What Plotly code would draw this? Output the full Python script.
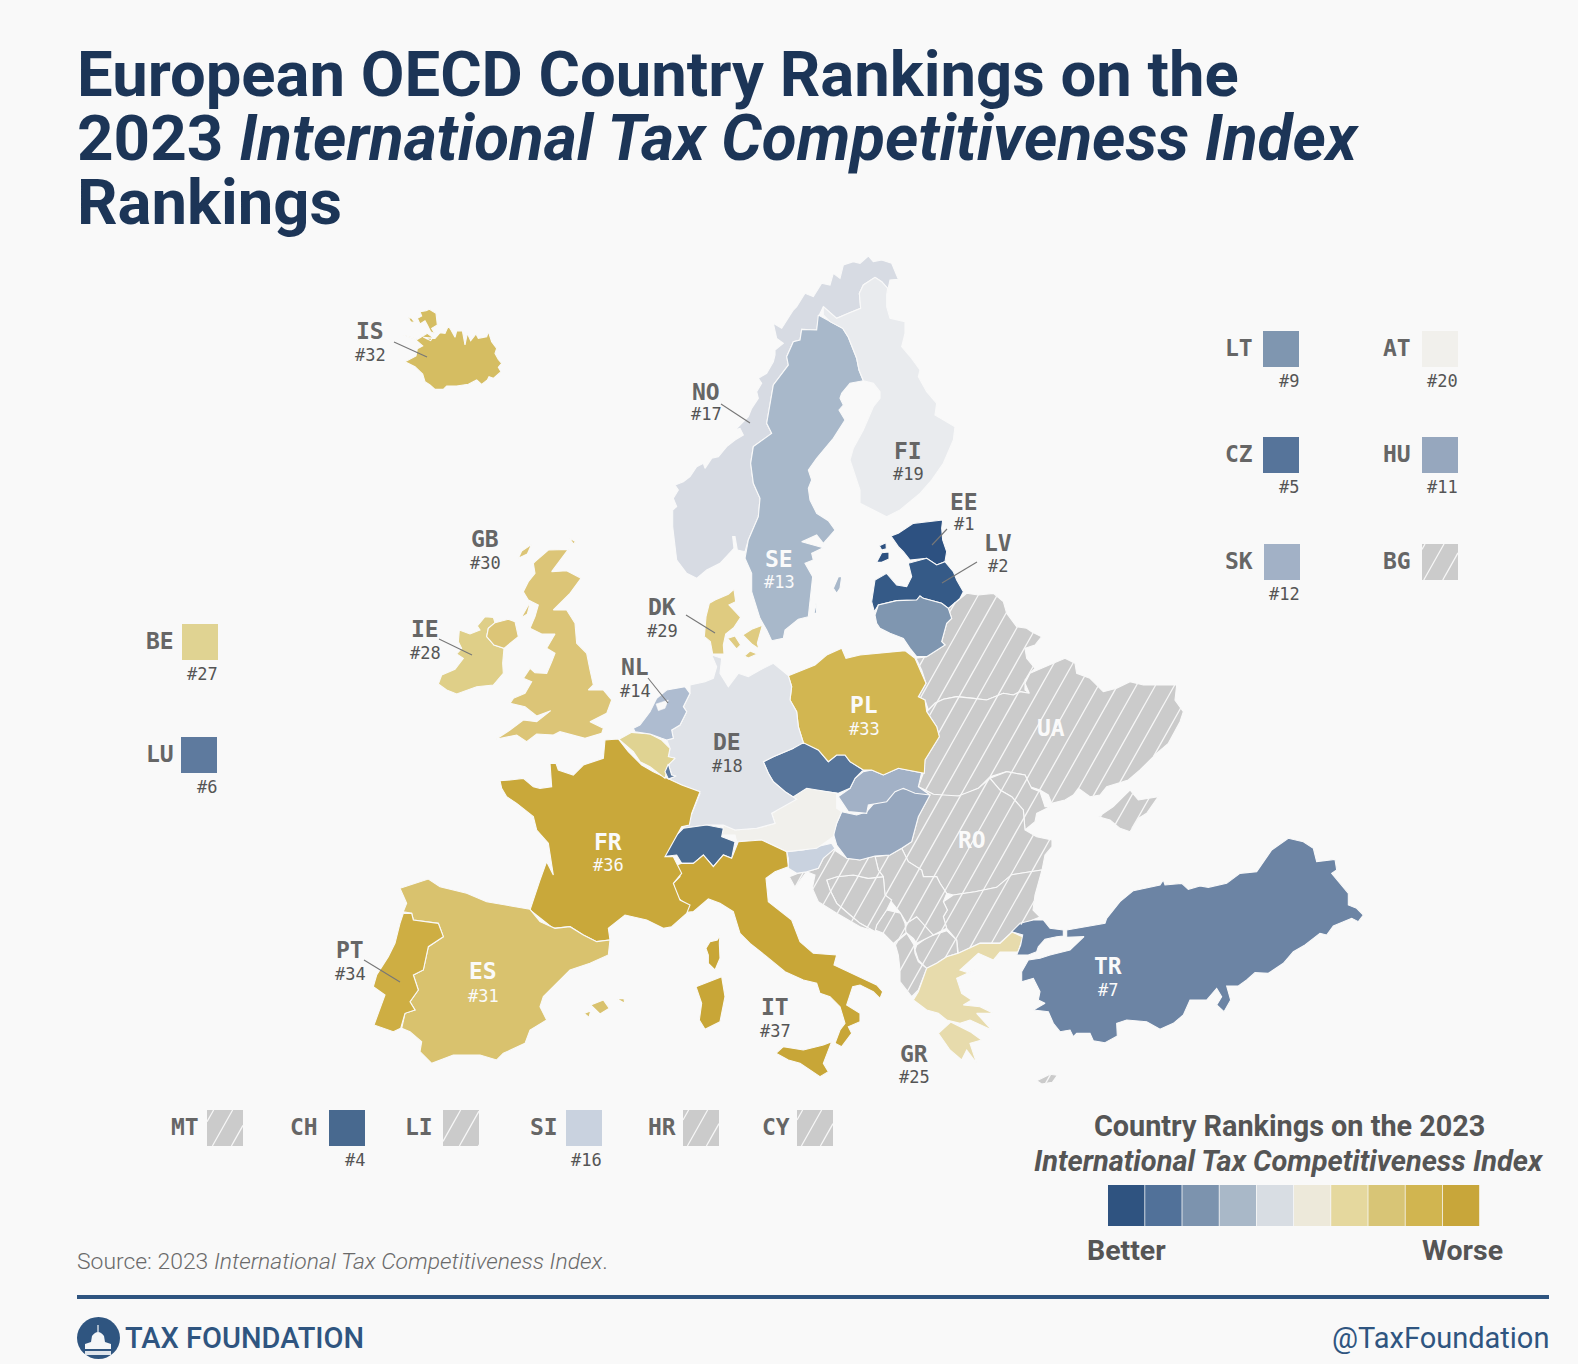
import plotly.graph_objects as go

BG = "#f9f9f9"
NAVY = "#1c3557"
BLUE = "#2f5580"
GRAY = "#cbcbcb"

# crop origins that the outlines were read in (reference px = value/3 + origin)
Z1 = (340, 250); Z2 = (660, 250); Z3 = (420, 530); Z4 = (740, 530)
Z5 = (370, 730); Z6 = (660, 780); Z7 = (1000, 820)

IS_MAIN = [(195,335),(228,318),(232,296),(248,288),(225,268),(205,262),(186,254),(215,262),(232,268),(262,250),(278,262),(272,272),(250,262),(285,265),(300,248),(315,250),(325,228),(333,240),(345,262),(350,243),(367,242),(375,285),(382,250),(392,272),(408,252),(415,265),(440,260),(445,245),(455,275),(470,295),(465,310),(475,328),(485,340),(475,352),(483,365),(460,385),(447,380),(442,390),(425,403),(410,390),(385,403),(350,408),(320,408),(310,418),(285,418),(270,405),(255,395),(248,372),(225,350)]
IS_NW = [(240,185),(258,182),(268,178),(288,190),(292,225),(275,235),(285,252),(272,245),(262,225),(255,212),(240,222),(232,205),(245,198)]
IS_ISLET = [(205,203),(215,205),(225,218),(212,215)]
NO_MAIN = [(695,40),(715,88),(690,90),(680,135),(683,115),(665,95),(645,82),(610,105),(598,130),(602,175),(565,190),(530,205),(490,170),(478,195),(470,240),(425,238),(420,270),(400,275),(380,320),(385,345),(340,405),(320,520),(335,550),(280,590),(272,640),(280,700),(300,745),(295,800),(265,870),(255,905),(232,900),(225,860),(218,860),(222,895),(180,940),(140,960),(110,985),(80,970),(50,930),(45,880),(38,830),(38,780),(50,770),(40,745),(55,720),(45,705),(70,695),(90,680),(110,650),(130,640),(135,655),(155,625),(175,620),(200,590),(225,570),(250,555),(240,535),(225,540),(255,510),(265,500),(275,475),(295,445),(290,425),(305,400),(295,385),(320,370),(340,335),(345,315),(345,300),(370,280),(350,265),(340,220),(365,235),(400,180),(410,170),(435,130),(460,140),(485,100),(510,105),(520,70),(540,85),(550,45),(580,35),(600,40),(625,18),(640,35),(665,30)]
SE_MAIN = [(475,195),(510,215),(548,235),(565,262),(578,295),(590,325),(597,360),(610,392),(570,400),(545,430),(540,445),(550,465),(537,480),(555,510),(520,565),(490,600),(470,625),(445,660),(455,690),(445,715),(450,750),(470,790),(505,812),(525,840),(490,880),(470,855),(425,875),(490,893),(455,910),(460,930),(435,940),(458,980),(445,1100),(415,1108),(375,1140),(370,1165),(335,1172),(320,1140),(300,1105),(275,1025),(275,970),(255,925),(265,870),(295,800),(300,745),(280,700),(272,640),(280,590),(335,550),(320,520),(340,405),(385,345),(380,320),(400,275),(420,270),(425,238),(470,240)]
SE_GOTLAND = [(520,1015),(535,980),(545,980),(540,1015),(530,1030)]
SE_OLAND = [(462,1090),(468,1060),(470,1090)]
FI_MAIN = [(490,170),(530,205),(565,190),(602,175),(598,130),(610,105),(645,82),(665,95),(683,115),(680,135),(680,170),(690,205),(735,215),(735,250),(725,290),(755,325),(780,360),(775,380),(800,425),(830,460),(825,495),(885,530),(880,570),(850,640),(815,690),(780,730),(720,780),(680,800),(640,780),(600,760),(600,720),(570,630),(580,595),(610,540),(640,470),(660,445),(660,425),(640,400),(610,392),(597,360),(590,325),(578,295),(565,262),(548,235),(510,215),(490,195)]
EE_MAIN = [(693,858),(715,850),(760,820),(810,815),(848,810),(845,835),(848,870),(860,905),(855,935),(830,945),(800,925),(750,930),(730,905),(715,890)]
EE_SAAREMAA = [(410,97),(425,68),(447,66),(447,87),(425,97)]
EE_HIIUMAA = [(418,47),(438,38),(439,56),(425,60)]
LV_MAIN = [(395,215),(405,150),(440,130),(470,165),(500,170),(515,140),(505,100),(560,85),(590,105),(615,95),(640,125),(650,150),(670,185),(660,205),(625,235),(605,220),(550,205),(540,198),(530,210),(470,212),(415,225),(403,245)]
LT_MAIN = [(405,255),(415,225),(470,212),(530,210),(540,198),(550,205),(605,220),(625,235),(635,265),(620,280),(605,335),(615,345),(560,380),(530,380),(510,355),(490,325),(450,310),(420,295),(410,280)]
BY_MAIN = [(625,235),(660,205),(680,190),(715,195),(760,190),(790,215),(800,250),(830,290),(860,295),(875,305),(905,320),(885,345),(855,355),(860,385),(885,415),(870,430),(855,450),(855,480),(868,490),(840,485),(820,495),(790,490),(740,510),(700,505),(650,500),(610,508),(585,520),(565,540),(555,510),(535,500),(558,460),(545,420),(528,385),(560,380),(615,345),(605,335),(620,280),(635,265)]
UA_MAIN = [(565,540),(585,520),(610,508),(650,500),(700,505),(740,510),(790,490),(820,495),(840,485),(868,490),(855,460),(870,430),(915,410),(950,395),(975,385),(1005,400),(1010,430),(1050,445),(1075,470),(1090,485),(1130,475),(1170,455),(1210,465),(1270,465),(1310,465),(1305,510),(1330,545),(1320,575),(1285,640),(1250,670),(1200,720),(1165,750),(1100,770),(1080,795),(1050,800),(1015,775),(1000,795),(975,810),(935,820),(925,795),(900,780),(870,770),(855,735),(800,725),(750,740),(715,775),(680,790),(655,798),(610,798),(580,793),(535,770),(550,730),(555,690),(598,620),(590,590),(560,545)]
UA_CRIMEA = [(1075,860),(1120,830),(1150,800),(1170,780),(1195,810),(1255,800),(1220,850),(1195,865),(1170,905),(1140,895),(1110,870)]
MD_MAIN = [(750,745),(800,725),(855,735),(875,775),(900,785),(915,830),(930,830),(890,850),(885,875),(855,900),(850,840),(815,800),(780,780)]
RO_MAIN = [(775,20),(820,43),(895,48),(955,25),(990,-5),(1020,30),(1055,50),(1090,90),(1095,150),(1130,170),(1176,180),(1176,200),(1155,225),(1146,270),(1055,284),(1010,322),(945,335),(880,345),(860,340),(840,310),(830,290),(790,290),(785,270),(745,245),(725,205),(755,185),(775,110),(810,45)]
BG_MAIN = [(880,345),(945,335),(1010,322),(1055,284),(1146,270),(1125,345),(1119,390),(1140,411),(1080,435),(1020,489),(960,489),(895,520),(890,480),(860,445),(850,410),(862,390),(850,365)]
MK_MAIN = [(770,495),(805,470),(860,452),(890,480),(893,520),(860,530),(830,550),(800,565),(775,540),(765,510)]
AL_MAIN = [(705,490),(740,460),(762,495),(765,520),(775,545),(800,565),(775,630),(755,650),(720,605),(720,570),(715,525)]
XK_MAIN = [(735,455),(740,430),(770,410),(790,430),(820,465),(770,490),(760,475)]
ME_MAIN = [(645,450),(650,435),(680,390),(722,400),(735,430),(738,458),(700,490),(670,460)]
RS_MAIN = [(655,270),(645,230),(690,225),(725,205),(745,245),(785,270),(790,290),(830,290),(840,310),(860,340),(850,365),(862,390),(850,410),(860,445),(820,465),(790,430),(770,410),(740,430),(722,400),(690,360),(675,345),(670,290)]
BA_MAIN = [(500,300),(530,290),(580,285),(625,295),(670,290),(675,345),(695,360),(680,390),(650,435),(645,455),(600,430),(570,405),(530,370),(510,330)]
HR_MAIN = [(515,205),(560,235),(600,240),(645,228),(655,270),(670,290),(625,295),(580,285),(530,290),(500,300),(510,330),(530,370),(570,405),(600,430),(645,455),(600,440),(530,400),(475,365),(457,325),(465,285),(440,275),(420,300),(405,322),(388,290),(415,280),(440,275),(475,265),(490,235)]
SI_MAIN = [(380,215),(430,210),(470,200),(515,190),(525,205),(490,235),(475,265),(440,275),(410,280),(385,265),(385,235)]
HU_MAIN = [(545,95),(590,105),(620,95),(655,55),(690,45),(720,25),(770,30),(810,45),(775,110),(755,185),(725,205),(690,225),(645,228),(600,240),(560,235),(530,195),(520,160),(530,130)]
SK_MAIN = [(370,725),(395,720),(430,735),(475,715),(545,728),(535,770),(570,795),(525,790),(490,775),(465,785),(440,815),(385,825),(380,850),(325,845),(295,800),(330,775),(345,745)]
CZ_MAIN = [(70,695),(100,680),(160,655),(165,640),(195,640),(235,660),(265,695),(290,675),(315,675),(330,695),(370,720),(345,745),(330,775),(295,790),(255,785),(205,780),(170,808),(135,785),(100,755),(85,730)]
PL_MAIN = [(145,437),(225,405),(260,375),(305,355),(318,385),(360,375),(495,362),(525,385),(558,460),(535,500),(555,510),(560,545),(590,590),(598,620),(555,690),(553,730),(475,715),(430,735),(395,720),(370,720),(330,695),(315,675),(290,675),(265,695),(235,660),(190,638),(175,590),(170,545),(150,510),(155,470)]
AT_MAIN = [(345,95),(385,60),(440,25),(530,40),(530,85),(545,95),(530,130),(520,170),(470,205),(380,215),(305,180),(230,185),(225,165),(185,165),(190,135),(225,150),(290,145),(345,130),(335,100)]
CH_MAIN = [(15,205),(45,170),(70,145),(140,135),(190,145),(185,170),(225,185),(215,235),(190,225),(160,260),(130,225),(100,250),(65,250),(50,225),(10,230)]
IT_MAIN = [(50,255),(65,250),(100,250),(130,225),(160,260),(190,225),(215,235),(235,185),(305,180),(380,215),(385,260),(345,275),(318,295),(325,365),(395,420),(420,485),(460,520),(530,525),(522,555),(595,590),(650,615),(668,635),(660,655),(640,635),(600,615),(578,620),(560,675),(600,700),(600,725),(565,740),(575,760),(545,800),(525,790),(540,750),(555,730),(540,680),(510,650),(480,640),(470,610),(430,600),(375,575),(320,530),(270,490),(240,460),(220,395),(180,370),(145,357),(100,395),(55,400),(80,375),(50,350),(40,310),(60,290)]
IT_SICILY = [(348,820),(370,800),(430,810),(490,795),(515,785),(490,850),(505,875),(480,890),(420,850),(385,840)]
IT_SARDINIA = [(108,620),(160,600),(185,590),(195,650),(180,725),(135,748),(118,720),(125,670)]
FR_CORSICA = [(138,505),(150,485),(172,480),(180,465),(178,490),(180,535),(165,570),(145,550),(145,525)]
FR_MAIN = [(390,152),(420,150),(460,145),(490,170),(510,175),(545,170),(540,100),(558,100),(565,120),(610,135),(640,105),(700,85),(705,30),(745,27),(775,65),(815,105),(850,125),(890,145),(935,165),(990,185),(965,250),(958,285),(935,290),(885,380),(910,380),(935,430),(910,460),(930,510),(960,525),(950,550),(905,590),(880,595),(830,570),(765,555),(715,595),(720,630),(680,635),(640,615),(600,590),(550,595),(480,540),(510,450),(530,395),(550,435),(535,340),(500,300),(490,260),(440,220),(410,200),(395,175)]
ES_MAIN = [(90,475),(175,447),(210,470),(290,490),(350,515),(410,525),(480,538),(510,575),(555,595),(600,590),(640,615),(680,635),(720,630),(715,675),(660,700),(600,720),(575,745),(520,800),(510,830),(530,870),(480,900),(465,940),(400,970),(380,990),(330,975),(250,975),(185,1000),(150,965),(155,935),(120,905),(95,895),(105,850),(135,840),(120,815),(145,780),(130,735),(160,720),(175,650),(220,620),(205,580),(130,570),(125,550),(100,545),(110,520)]
ES_MALLORCA = [(662,825),(700,810),(718,835),(690,852)]
ES_IBIZA = [(643,850),(662,843),(657,862)]
ES_MENORCA = [(740,806),(762,806),(764,820)]
PT_MAIN = [(100,550),(125,550),(130,570),(205,580),(220,620),(175,650),(160,720),(130,735),(145,780),(120,815),(135,840),(105,850),(92,895),(70,905),(12,885),(35,820),(45,795),(10,770),(20,735),(55,680),(75,640),(90,580)]
BE_MAIN = [(597,628),(635,607),(690,612),(725,630),(750,655),(745,680),(765,685),(745,705),(735,745),(690,710),(660,695),(640,665)]
LU_MAIN = [(745,702),(755,735),(768,738),(745,747),(735,725)]
NL_MAIN = [(660,585),(690,545),(710,505),(740,480),(795,470),(810,490),(790,530),(800,545),(780,585),(755,600),(760,625),(740,630),(725,625),(690,612),(645,605),(640,595)]
NL_LAKE = [(708,522),(745,510),(735,535),(715,542)]
DE_MAIN = [(875,375),(905,385),(900,430),(925,470),(955,430),(985,440),(1020,420),(1060,400),(1085,420),(1105,437),(1115,470),(1110,510),(1130,545),(1135,590),(1150,638),(1120,655),(1060,680),(1030,695),(1045,730),(1060,755),(1095,785),(1130,808),(1055,850),(1065,880),(1010,895),(945,900),(910,885),(860,885),(790,895),(816,850),(840,790),(808,775),(765,755),(745,747),(768,738),(755,735),(745,702),(765,685),(745,680),(750,655),(740,630),(760,625),(755,600),(780,585),(800,545),(790,530),(810,490),(810,465),(855,455),(880,445),(890,410)]
DK_JUTLAND = [(853,320),(858,260),(868,220),(885,210),(925,193),(942,178),(947,215),(927,225),(962,262),(942,292),(917,312),(910,345),(912,372),(878,372),(871,335)]
DK_FUNEN = [(923,325),(945,318),(962,345),(950,357)]
DK_ZEALAND = [(8,315),(35,298),(67,286),(52,340),(57,357),(35,342)]
DK_LOLLAND = [(13,378),(30,363),(52,372),(25,384)]
IE_MAIN = [(55,462),(65,435),(105,418),(130,385),(110,372),(125,355),(115,335),(118,300),(150,312),(180,300),(172,288),(195,260),(220,262),(225,278),(205,295),(200,320),(222,345),(252,355),(248,400),(250,430),(220,465),(170,470),(110,492),(80,480)]
GB_NI = [(225,278),(205,295),(200,320),(222,345),(252,355),(265,345),(295,320),(285,275),(265,268)]
GB_MAIN = [(345,95),(385,60),(445,58),(420,90),(395,125),(440,122),(483,145),(450,190),(430,210),(400,240),(440,240),(465,280),(470,340),(500,370),(510,420),(520,465),(505,480),(550,480),(575,510),(560,550),(510,575),(550,595),(545,610),(495,625),(420,605),(400,615),(350,612),(320,635),(290,615),(228,628),(270,600),(310,570),(350,575),(392,542),(350,558),(315,530),(270,520),(280,505),(315,490),(335,455),(310,445),(330,415),(345,428),(380,430),(395,395),(405,370),(380,355),(405,312),(365,312),(330,295),(345,260),(355,225),(325,210),(310,185),(325,155),(345,130),(340,100)]
GB_LEWIS = [(295,85),(305,63),(335,43),(322,72)]
GB_ORKNEY = [(448,23),(467,35),(460,42)]
GB_SKYE = [(303,264),(332,213),(322,252)]
GR_MAIN = [(760,660),(775,635),(800,565),(830,550),(860,530),(895,520),(960,490),(1020,490),(1056,456),(1089,471),(1074,516),(1020,516),(1000,540),(955,520),(900,570),(930,580),(955,565),(890,595),(905,640),(935,660),(910,675),(960,680),(1000,700),(950,700),(995,750),(930,720),(900,730),(860,720),(835,700),(800,690)]
GR_PELOPONNESE = [(835,760),(850,745),(872,726),(930,755),(965,780),(930,790),(950,850),(920,810),(905,840),(870,810)]
TR_MAIN = [(200,330),(260,320),(315,310),(320,295),(360,245),(400,212),(480,195),(490,180),(495,195),(545,190),(565,208),(600,198),(625,202),(680,190),(720,160),(770,155),(815,90),(865,55),(910,65),(940,85),(950,125),(1005,118),(1010,150),(995,160),(1045,220),(1045,255),(1070,265),(1090,285),(1075,305),(1055,295),(1000,318),(980,345),(960,340),(915,375),(880,395),(850,430),(805,460),(765,458),(740,480),(715,498),(680,498),(692,540),(672,575),(650,555),(665,530),(650,505),(620,540),(570,540),(550,585),(520,610),(480,628),(440,605),(380,600),(350,610),(352,648),(315,668),(280,662),(270,640),(230,640),(220,650),(210,630),(180,635),(160,610),(145,575),(100,570),(135,550),(115,540),(120,515),(100,475),(65,485),(65,455),(85,420),(120,415),(150,405),(210,390),(252,350),(200,352)]
TR_THRACE = [(50,405),(62,375),(68,345),(35,335),(60,310),(100,300),(130,300),(150,325),(190,330),(190,348),(170,350),(135,358),(115,380),(110,395),(85,405)]
CY_MAIN = [(110,782),(150,763),(172,766),(157,787),(125,792)]

RANKS = {"EE":1,"LV":2,"CH":4,"CZ":5,"LU":6,"TR":7,"LT":9,"HU":11,"SK":12,"SE":13,"NL":14,"SI":16,"NO":17,"DE":18,"FI":19,"AT":20,"GR":25,"BE":27,"IE":28,"DK":29,"GB":30,"ES":31,"IS":32,"PL":33,"PT":34,"FR":36,"IT":37}
FILLS = {"EE":"#2d5181","LV":"#355a87","CH":"#48698f","CZ":"#56749a","LU":"#5e7a9e","TR":"#6c84a4","LT":"#7f96b0","HU":"#96a7be","SK":"#a2b1c6","SE":"#a8b8ca","NL":"#aebcd0","SI":"#c9d2df","NO":"#d7dbe3","DE":"#e0e3e8","FI":"#e9ebee","AT":"#f1f0ec","GR":"#e7dbac","BE":"#e0d392","IE":"#dfcf88","DK":"#dfcb80","GB":"#dcc577","ES":"#d9c26e","IS":"#d5bd62","PL":"#d2b651","PT":"#ceae43","FR":"#c9a83a","IT":"#c8a637"}
LEGEND_STEPS = ["#2f5380","#517199","#7c93ae","#a9b8c8","#d8dde3","#ede9da","#e5d89e","#d8c576","#d1b550","#c8a63a"]

MAP = [
    ("BY", Z4, [BY_MAIN]), ("UA", Z4, [UA_MAIN, UA_CRIMEA]), ("MD", Z4, [MD_MAIN]),
    ("RO", Z6, [RO_MAIN]), ("BG", Z6, [BG_MAIN]), ("MK", Z6, [MK_MAIN]), ("AL", Z6, [AL_MAIN]),
    ("XK", Z6, [XK_MAIN]), ("ME", Z6, [ME_MAIN]), ("RS", Z6, [RS_MAIN]), ("BA", Z6, [BA_MAIN]),
    ("HR", Z6, [HR_MAIN]), ("CY", Z7, [CY_MAIN]),
    ("IS", Z1, [IS_MAIN, IS_NW, IS_ISLET]), ("NO", Z2, [NO_MAIN]), ("SE", Z2, [SE_MAIN, SE_GOTLAND, SE_OLAND]),
    ("FI", Z2, [FI_MAIN]), ("EE", Z2, [EE_MAIN]), ("EE", Z4, [EE_SAAREMAA, EE_HIIUMAA]),
    ("LV", Z4, [LV_MAIN]), ("LT", Z4, [LT_MAIN]), ("SI", Z6, [SI_MAIN]), ("HU", Z6, [HU_MAIN]),
    ("SK", Z4, [SK_MAIN]), ("CZ", Z4, [CZ_MAIN]), ("PL", Z4, [PL_MAIN]), ("AT", Z6, [AT_MAIN]),
    ("DE", Z3, [DE_MAIN]), ("CH", Z6, [CH_MAIN]), ("IT", Z6, [IT_MAIN, IT_SICILY, IT_SARDINIA]),
    ("IT", Z6, [FR_CORSICA]), ("FR", Z5, [FR_MAIN]), ("ES", Z5, [ES_MAIN, ES_MALLORCA, ES_IBIZA, ES_MENORCA]),
    ("PT", Z5, [PT_MAIN]), ("BE", Z3, [BE_MAIN]), ("LU", Z3, [LU_MAIN]), ("NL", Z3, [NL_MAIN]),
    ("DK", Z3, [DK_JUTLAND, DK_FUNEN]), ("DK", Z4, [DK_ZEALAND, DK_LOLLAND]), ("IE", Z3, [IE_MAIN]),
    ("GB", Z3, [GB_NI, GB_MAIN, GB_LEWIS, GB_ORKNEY, GB_SKYE]), ("GR", Z6, [GR_MAIN, GR_PELOPONNESE]),
    ("TR", Z7, [TR_MAIN, TR_THRACE]),
]

MAP_LABELS = [("IS",370,331,355,0),("NO",706,392,414,0),("FI",908,451,474,0),("EE",964,502,524,0),("LV",998,543,566,0),
              ("SE",779,559,582,1),("GB",485,539,563,0),("IE",425,629,653,0),("DK",662,607,631,0),("NL",635,667,691,0),
              ("DE",727,742,766,0),("PL",864,705,729,1),("UA",1051,728,None,1),("RO",972,840,None,1),("FR",608,842,865,1),
              ("ES",483,971,996,1),("PT",350,950,974,0),("IT",775,1007,1031,0),("GR",914,1054,1077,0),("TR",1108,966,990,1)]
LEADERS = [(394,342,427,357),(721,404,750,423),(947,529,932,545),(977,562,942,583),(439,639,472,655),(686,615,715,633),(648,678,668,703),(364,960,400,982)]
SWATCHES = [("LT",1263,331,1239),("AT",1422,331,1397),("CZ",1263,437,1239),("HU",1422,437,1397),("SK",1264,544,1239),("BG",1422,544,1397),
            ("BE",182,624,160),("LU",181,737,160),("MT",207,1110,185),("CH",329,1110,304),("LI",443,1110,419),("SI",566,1110,544),("HR",683,1110,662),("CY",797,1110,776)]
SWATCH_SIZE = 36


def to_px(origin, pts):
    return [(p[0] / 3 + origin[0], p[1] / 3 + origin[1]) for p in pts]


def hatch(poly, out_x, out_y):
    """Clip the diagonal hatch lines of the map to one polygon."""
    slope, c0, step = 0.5625, 1313, 19
    vals = [p[0] + slope * p[1] for p in poly]
    k = int((min(vals) - c0) // step)
    while c0 + k * step <= max(vals):
        c = c0 + k * step
        ys = []
        for i in range(len(poly)):
            a, b = poly[i], poly[(i + 1) % len(poly)]
            va, vb = vals[i], vals[(i + 1) % len(poly)]
            if (va - c) * (vb - c) < 0:
                t = (c - va) / (vb - va)
                ys.append(a[1] + t * (b[1] - a[1]))
        ys.sort()
        for j in range(0, len(ys) - 1, 2):
            out_x += [c - slope * ys[j], c - slope * ys[j + 1], None]
            out_y += [ys[j], ys[j + 1], None]
        k += 1


fig = go.Figure()
hx, hy = [], []


def add_poly(parts, color, width=1.1, line=BG):
    xs, ys = [], []
    for part in parts:
        xs += [p[0] for p in part] + [part[0][0], None]
        ys += [p[1] for p in part] + [part[0][1], None]
    fig.add_trace(go.Scatter(x=xs, y=ys, mode="lines", fill="toself", fillcolor=color,
                             line=dict(color=line, width=width), hoverinfo="skip", showlegend=False))


gray_polys = []
for code, origin, parts in MAP:
    px = [to_px(origin, part) for part in parts]
    add_poly(px, FILLS.get(code, GRAY))
    if code not in FILLS:
        gray_polys += px
for poly in gray_polys:
    hatch(poly, hx, hy)
add_poly([to_px(Z3, NL_LAKE)], BG, 0.5)

annotations = []


def text(x, y, s, size, color, family="Roboto", weight=400, anchor="center"):
    annotations.append(dict(x=x, y=y, xref="x", yref="y", text=s, showarrow=False, xanchor=anchor, yanchor="middle",
                            font=dict(family=family, size=size, color=color, weight=weight)))


MONO = "DejaVu Sans Mono"
for code, x, y, y2, white in MAP_LABELS:
    col = "#fafafa" if white else "#666666"
    text(x, y, code, 23, col, MONO, 700)
    if y2 is not None:
        text(x, y2, f"#{RANKS[code]}", 17, "#fafafa" if white else "#555555", MONO)

for code, left, top, cx in SWATCHES:
    rect = [(left, top), (left + SWATCH_SIZE, top), (left + SWATCH_SIZE, top + SWATCH_SIZE), (left, top + SWATCH_SIZE)]
    add_poly([rect], FILLS.get(code, GRAY), 0)
    if code not in FILLS:
        hatch(rect, hx, hy)
    text(cx, top + 17, code, 23, "#666666", MONO, 700)
    if code in RANKS:
        text(left + SWATCH_SIZE + 2, top + 50, f"#{RANKS[code]}", 17, "#555555", MONO, anchor="right")

fig.add_trace(go.Scatter(x=hx, y=hy, mode="lines", line=dict(color="#f7f7f7", width=1.3), hoverinfo="skip", showlegend=False))

lx, ly = [], []
for a, b, c, d in LEADERS:
    lx += [a, c, None]; ly += [b, d, None]
fig.add_trace(go.Scatter(x=lx, y=ly, mode="lines", line=dict(color="#777777", width=1.1), hoverinfo="skip", showlegend=False))

shapes = []
for i, col in enumerate(LEGEND_STEPS):
    shapes.append(dict(type="rect", xref="x", yref="y", x0=1108 + i * 37.2, x1=1108 + i * 37.2 + 36.4, y0=1185, y1=1226, fillcolor=col, line_width=0))
shapes.append(dict(type="line", xref="x", yref="y", x0=77, x1=1549, y0=1297, y1=1297, line=dict(color=BLUE, width=4)))
shapes.append(dict(type="circle", xref="x", yref="y", x0=77, x1=120, y0=1317, y1=1359, fillcolor=BLUE, line_width=0))
shapes.append(dict(type="path", xref="x", yref="y", path="M 85 1349 L 85 1344 L 91 1342 L 92 1336 Q 98 1328 104 1336 L 105 1342 L 111 1344 L 111 1349 Z", fillcolor="#f4f6f8", line_width=0))
shapes.append(dict(type="rect", xref="x", yref="y", x0=97.4, x1=98.6, y0=1325, y1=1332, fillcolor="#f4f6f8", line_width=0))
shapes.append(dict(type="rect", xref="x", yref="y", x0=85, x1=111, y0=1351, y1=1355, fillcolor="#dfe5ec", line_width=0))

text(75, 74, "European OECD Country Rankings on the", 63.4, NAVY, "Roboto", 700, "left")
text(75, 138, "2023 <i>International Tax Competitiveness Index</i>", 63.8, NAVY, "Roboto", 700, "left")
text(75, 202, "Rankings", 63.4, NAVY, "Roboto", 700, "left")
text(1289, 1126, "Country Rankings on the 2023", 28.8, "#555555", "Roboto", 700)
text(1289, 1161, "<i>International Tax Competitiveness Index</i>", 29, "#555555", "Roboto", 700)
text(1126, 1250, "Better", 28.5, "#555555", "Roboto", 700)
text(1462, 1250, "Worse", 28.5, "#555555", "Roboto", 700)
text(75, 1261, "Source: 2023 <i>International Tax Competitiveness Index</i>.", 22.9, "#6a6a6a", "Roboto", 300, "left")
text(123, 1338, "TAX FOUNDATION", 29, BLUE, "Roboto", 500, "left")
text(1551, 1338, "@TaxFoundation", 29, BLUE, "Roboto", 400, "right")

fig.update_layout(width=1578, height=1364, autosize=False, margin=dict(l=0, r=0, t=0, b=0), paper_bgcolor=BG, plot_bgcolor=BG,
                  xaxis=dict(range=[0, 1578], visible=False, fixedrange=True),
                  yaxis=dict(range=[1364, 0], visible=False, fixedrange=True),
                  shapes=shapes, annotations=annotations, showlegend=False)
fig.write_html("out.html", config={"displayModeBar": False}, post_script="document.body.style.margin='0';document.body.style.overflow='hidden';")
